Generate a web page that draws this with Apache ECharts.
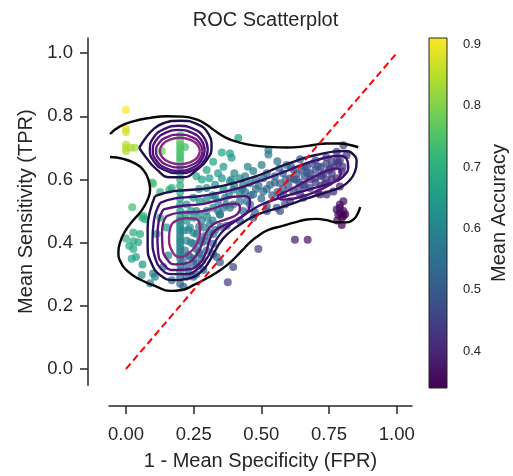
<!DOCTYPE html>
<html>
  <head>
    <meta charset="utf-8">
    <title>ROC Scatterplot</title>
    <script src="https://cdn.jsdelivr.net/npm/echarts@6/dist/echarts.min.js"></script>
  </head>
  <body style="margin:0;background:#fff;">
    <div id="main" style="width:513px;height:476px;"></div>
    <script type="text/javascript">

      // tick labels
      var xTicks = [0, 0.25, 0.5, 0.75, 1];
      var yTicks = [0, 0.2, 0.4, 0.6, 0.8, 1];
      var accTicks = [0.4, 0.5, 0.6, 0.7, 0.8, 0.9];
      var accRange = [0.34, 0.91];

      // chance line
      var diagonal = [[0, 0], [1, 1]];

      // [1 - specificity, sensitivity, accuracy]
      var leftPoints = [
        [0.0,0.82,0.91],[0.0,0.76,0.88],[0.0,0.75,0.87],[0.0,0.71,0.85],[0.0,0.70,0.85],[0.0,0.69,0.84],
        [0.017,0.70,0.84],[0.033,0.70,0.83],
        [0.097,0.59,0.75],[0.126,0.56,0.72],[0.16,0.567,0.70],[0.023,0.512,0.74],[0.06,0.479,0.71],
        [0.07,0.474,0.70],[0.0,0.413,0.71],[0.027,0.432,0.70],[0.027,0.404,0.69],[0.052,0.427,0.69],
        [0.012,0.39,0.69],[0.027,0.38,0.68],[0.037,0.354,0.66],[0.021,0.349,0.66],[0.061,0.331,0.64],
        [0.045,0.401,0.68],[0.10,0.302,0.60],[0.058,0.297,0.62],[0.089,0.271,0.59],[0.126,0.479,0.68],
        [0.15,0.448,0.65],[0.113,0.427,0.66],[0.156,0.359,0.60],[0.138,0.323,0.59],[0.107,0.292,0.59],
        [0.169,0.281,0.56],[0.064,0.484,0.71],[0.132,0.69,0.78],[0.218,0.703,0.74],[0.26,0.61,0.68],
        [0.169,0.573,0.70],[0.10,0.586,0.74]
      ];
      var columnPoints = [
        [0.2,0.27,0.535],[0.2,0.29,0.545],[0.2,0.31,0.555],[0.2,0.33,0.565],[0.2,0.35,0.575],
        [0.2,0.36,0.58],[0.2,0.37,0.585],[0.2,0.38,0.59],[0.2,0.39,0.595],[0.2,0.40,0.60],
        [0.2,0.41,0.605],[0.2,0.42,0.61],[0.2,0.43,0.615],[0.2,0.44,0.62],[0.2,0.45,0.625],
        [0.2,0.46,0.63],[0.2,0.47,0.635],[0.2,0.48,0.64],[0.2,0.50,0.65],[0.2,0.52,0.66],
        [0.2,0.54,0.67],[0.2,0.56,0.68],[0.2,0.58,0.69],[0.2,0.60,0.70],[0.2,0.62,0.71],
        [0.2,0.64,0.72],[0.2,0.66,0.73],[0.2,0.67,0.735],[0.2,0.68,0.74],[0.2,0.69,0.745],
        [0.2,0.70,0.75],[0.2,0.71,0.755],[0.2,0.72,0.76],[0.2,0.74,0.77]
      ];
      var clusterPoints = [
        [0.224,0.469,0.62],[0.249,0.479,0.62],[0.273,0.489,0.61],[0.298,0.50,0.60],[0.322,0.51,0.59],
        [0.347,0.489,0.57],[0.212,0.438,0.61],[0.236,0.448,0.61],[0.261,0.427,0.58],[0.286,0.448,0.58],
        [0.31,0.458,0.57],[0.224,0.406,0.59],[0.249,0.396,0.57],[0.273,0.406,0.57],[0.218,0.375,0.58],
        [0.236,0.354,0.56],[0.261,0.333,0.54],[0.224,0.323,0.55],[0.298,0.375,0.54],[0.322,0.396,0.54],
        [0.335,0.354,0.51],[0.286,0.313,0.51],[0.249,0.292,0.52],[0.212,0.26,0.52],[0.224,0.292,0.53],
        [0.249,0.542,0.65],[0.273,0.531,0.63],[0.298,0.536,0.62],[0.329,0.547,0.61],[0.224,0.521,0.65],
        [0.23,0.44,0.60],[0.25,0.43,0.59],[0.27,0.45,0.59],[0.24,0.40,0.58],[0.26,0.38,0.56],
        [0.28,0.40,0.56],[0.23,0.36,0.57],[0.25,0.35,0.55],[0.27,0.37,0.55],[0.29,0.42,0.57],
        [0.31,0.43,0.56],[0.33,0.44,0.56],[0.35,0.45,0.55],[0.30,0.48,0.59],[0.32,0.47,0.58],
        [0.34,0.50,0.58],[0.36,0.51,0.58],[0.26,0.50,0.62],[0.28,0.47,0.60],[0.22,0.49,0.63],
        [0.24,0.50,0.63],[0.21,0.34,0.57],[0.23,0.31,0.54],[0.26,0.30,0.52],[0.28,0.35,0.54]
      ];
      var bandPoints = [
        [0.415,0.731,0.66],[0.354,0.685,0.67],[0.384,0.682,0.65],[0.39,0.669,0.64],[0.36,0.64,0.64],
        [0.47,0.627,0.58],[0.501,0.646,0.57],[0.526,0.679,0.58],[0.526,0.693,0.58],[0.559,0.658,0.55],
        [0.566,0.635,0.53],[0.594,0.646,0.53],[0.643,0.664,0.51],[0.668,0.64,0.49],[0.778,0.688,0.46],
        [0.803,0.708,0.45],[0.815,0.677,0.43],[0.308,0.604,0.65],[0.354,0.604,0.63],[0.384,0.594,0.61],
        [0.419,0.604,0.59],[0.433,0.583,0.58],[0.458,0.588,0.57],[0.507,0.604,0.55],[0.532,0.583,0.53],
        [0.569,0.588,0.51],[0.606,0.604,0.50],[0.631,0.619,0.49],[0.655,0.583,0.46],[0.68,0.573,0.45],
        [0.698,0.604,0.45],[0.723,0.614,0.45],[0.735,0.588,0.43],[0.754,0.635,0.44],[0.76,0.656,0.45],
        [0.784,0.651,0.43],[0.797,0.625,0.41],[0.778,0.604,0.41],[0.79,0.578,0.39],[0.766,0.562,0.40],
        [0.741,0.552,0.41],[0.71,0.557,0.42],[0.618,0.562,0.47],[0.643,0.552,0.45],[0.581,0.552,0.49],
        [0.507,0.562,0.53],[0.47,0.552,0.54],[0.421,0.557,0.57],[0.396,0.567,0.59],[0.329,0.583,0.63],
        [0.298,0.573,0.64],[0.298,0.63,0.67],[0.322,0.656,0.67],[0.79,0.521,0.37],[0.803,0.50,0.35],
        [0.784,0.489,0.35],[0.797,0.479,0.34],[0.52,0.516,0.50],[0.557,0.51,0.48],[0.587,0.521,0.47],
        [0.458,0.521,0.53],[0.433,0.50,0.53],[0.477,0.495,0.51],[0.396,0.521,0.56],[0.366,0.542,0.59],
        [0.62,0.60,0.49],[0.64,0.59,0.47],[0.66,0.61,0.47],[0.68,0.62,0.47],[0.70,0.63,0.47],
        [0.72,0.64,0.46],[0.74,0.65,0.45],[0.76,0.62,0.43],[0.70,0.59,0.44],[0.72,0.58,0.43],
        [0.74,0.60,0.43],[0.68,0.60,0.46],[0.66,0.58,0.46],[0.64,0.57,0.47],[0.60,0.58,0.49],
        [0.58,0.57,0.50],[0.56,0.56,0.50],[0.54,0.55,0.51],[0.62,0.63,0.50],[0.66,0.64,0.49],
        [0.70,0.66,0.48],[0.74,0.67,0.47],[0.78,0.66,0.44],[0.80,0.64,0.42],[0.76,0.60,0.42],
        [0.72,0.61,0.45],[0.69,0.65,0.48],[0.55,0.59,0.52],[0.52,0.57,0.53],[0.50,0.54,0.52],
        [0.36,0.57,0.61],[0.38,0.55,0.59],[0.40,0.58,0.59],[0.42,0.53,0.56],[0.44,0.56,0.56],
        [0.46,0.55,0.55],[0.48,0.57,0.55],[0.34,0.53,0.60],[0.32,0.55,0.62],[0.37,0.52,0.58],
        [0.45,0.64,0.60],[0.40,0.62,0.61],[0.34,0.62,0.64],[0.28,0.60,0.66],[0.27,0.57,0.65],
        [0.44,0.61,0.59],[0.48,0.60,0.56],[0.52,0.62,0.55],[0.55,0.61,0.53],[0.58,0.62,0.52],
        [0.61,0.64,0.52],[0.63,0.60,0.49],[0.67,0.62,0.48],[0.71,0.64,0.47],[0.75,0.63,0.44],
        [0.77,0.64,0.44],[0.79,0.66,0.44],[0.73,0.62,0.45],[0.65,0.63,0.49],[0.59,0.60,0.51],
        [0.49,0.58,0.55],[0.43,0.57,0.57],[0.39,0.60,0.61]
      ];
      var lowerPoints = [
        [0.624,0.409,0.39],[0.671,0.409,0.37],[0.489,0.38,0.45],[0.396,0.323,0.46],[0.376,0.274,0.45],
        [0.803,0.531,0.36],[0.79,0.495,0.35],[0.803,0.484,0.34],[0.797,0.456,0.33],[0.778,0.505,0.36],
        [0.347,0.338,0.50],[0.569,0.50,0.47],[0.52,0.50,0.49],[0.47,0.479,0.50],[0.421,0.469,0.52],
        [0.372,0.453,0.54],[0.322,0.427,0.55],[0.298,0.406,0.55],[0.273,0.364,0.55],[0.322,0.364,0.52],
        [0.249,0.333,0.54],[0.384,0.51,0.56],[0.347,0.489,0.57],[0.446,0.531,0.54],[0.606,0.531,0.46],
        [0.655,0.542,0.44],[0.717,0.552,0.42],[0.79,0.51,0.36],[0.81,0.49,0.34],[0.78,0.47,0.35]
      ];

      // KDE contour lines, one list per level (outer -> inner)
      var level1Lines = [
        [[-0.059,0.744],[-0.022,0.768],[0.027,0.784],[0.089,0.795],[0.150,0.800],[0.212,0.799],[0.261,0.790],
         [0.298,0.773],[0.335,0.750],[0.372,0.731],[0.415,0.718],[0.470,0.708],[0.532,0.703],[0.594,0.701],
         [0.643,0.703],[0.692,0.709],[0.741,0.714],[0.791,0.714],[0.828,0.709],[0.858,0.702]],
        [[0.865,0.513],[0.855,0.490],[0.840,0.473],[0.815,0.464],[0.778,0.464],[0.741,0.471],[0.704,0.475],
         [0.667,0.473],[0.624,0.464],[0.575,0.452],[0.526,0.440],[0.489,0.422],[0.458,0.401],[0.431,0.377],
         [0.403,0.352],[0.372,0.328],[0.335,0.305],[0.292,0.284],[0.249,0.265],[0.206,0.250],[0.163,0.247],
         [0.107,0.263],[0.052,0.283],[0.009,0.307],[-0.020,0.339],[-0.028,0.370],[-0.022,0.401],[-0.004,0.435],
         [0.025,0.469],[0.058,0.502],[0.080,0.536],[0.089,0.568],[0.083,0.599],[0.064,0.630],[0.033,0.651],
         [-0.010,0.665],[-0.059,0.671]]
      ];
      var level2Lines = [
        [[0.049,0.700],[0.070,0.728],[0.100,0.758],[0.138,0.778],[0.200,0.786],[0.261,0.776],[0.304,0.745],
         [0.316,0.703],[0.298,0.661],[0.261,0.630],[0.212,0.607],[0.163,0.607],[0.113,0.632],[0.072,0.672],
         [0.049,0.700]],
        [[0.107,0.547],[0.156,0.560],[0.218,0.566],[0.273,0.569],[0.323,0.575],[0.372,0.583],[0.421,0.594],
         [0.470,0.607],[0.520,0.623],[0.569,0.641],[0.618,0.656],[0.667,0.670],[0.717,0.680],[0.766,0.688],
         [0.809,0.690],[0.840,0.679],[0.852,0.656],[0.846,0.625],[0.825,0.596],[0.793,0.575],[0.754,0.563],
         [0.704,0.550],[0.655,0.536],[0.606,0.521],[0.544,0.505],[0.483,0.488],[0.433,0.464],[0.390,0.438],
         [0.357,0.411],[0.333,0.380],[0.310,0.344],[0.280,0.310],[0.230,0.286],[0.175,0.281],[0.126,0.297],
         [0.095,0.333],[0.080,0.385],[0.080,0.448],[0.089,0.500],[0.107,0.547]]
      ];
      var level3Lines = [
        [[0.302,0.695],[0.288,0.733],[0.249,0.760],[0.195,0.770],[0.142,0.760],[0.102,0.733],[0.088,0.695],
         [0.102,0.658],[0.142,0.630],[0.195,0.620],[0.249,0.630],[0.288,0.658],[0.302,0.695]],
        [[0.126,0.526],[0.181,0.540],[0.249,0.545],[0.310,0.552],[0.372,0.563],[0.427,0.575],[0.483,0.592],
         [0.538,0.609],[0.594,0.627],[0.649,0.646],[0.704,0.661],[0.754,0.672],[0.791,0.675],[0.815,0.665],
         [0.821,0.641],[0.809,0.615],[0.778,0.596],[0.729,0.581],[0.674,0.568],[0.618,0.554],[0.563,0.540],
         [0.507,0.523],[0.458,0.500],[0.415,0.474],[0.372,0.448],[0.341,0.419],[0.320,0.385],[0.298,0.349],
         [0.267,0.318],[0.218,0.300],[0.169,0.300],[0.128,0.318],[0.107,0.354],[0.098,0.406],[0.103,0.469],
         [0.126,0.526]]
      ];
      var level4Lines = [
        [[0.291,0.692],[0.278,0.725],[0.243,0.748],[0.195,0.757],[0.147,0.748],[0.112,0.725],[0.099,0.692],
         [0.112,0.660],[0.147,0.636],[0.195,0.627],[0.243,0.636],[0.278,0.660],[0.291,0.692]],
        [[0.138,0.505],[0.200,0.516],[0.273,0.521],[0.335,0.533],[0.397,0.545],[0.440,0.547],[0.458,0.531],
         [0.452,0.502],[0.421,0.479],[0.372,0.458],[0.329,0.438],[0.308,0.406],[0.296,0.370],[0.273,0.335],
         [0.230,0.315],[0.177,0.313],[0.138,0.331],[0.119,0.367],[0.116,0.417],[0.121,0.469],[0.138,0.505]],
        [[0.557,0.547],[0.618,0.573],[0.680,0.602],[0.741,0.627],[0.781,0.635],[0.793,0.620],[0.772,0.594],
         [0.711,0.565],[0.643,0.544],[0.581,0.536],[0.557,0.547]]
      ];
      var level5Lines = [
        [[0.283,0.690],[0.271,0.716],[0.240,0.735],[0.197,0.742],[0.154,0.735],[0.123,0.716],[0.111,0.690],
         [0.123,0.664],[0.154,0.645],[0.197,0.638],[0.240,0.645],[0.271,0.664],[0.283,0.690]],
        [[0.150,0.484],[0.200,0.495],[0.261,0.497],[0.310,0.505],[0.360,0.519],[0.403,0.523],[0.421,0.510],
         [0.411,0.490],[0.372,0.474],[0.323,0.458],[0.296,0.432],[0.281,0.396],[0.259,0.359],[0.224,0.335],
         [0.181,0.331],[0.150,0.349],[0.135,0.385],[0.133,0.432],[0.138,0.464],[0.150,0.484]]
      ];
      var level6Lines = [
        [[0.273,0.690],[0.263,0.711],[0.236,0.726],[0.199,0.732],[0.162,0.726],[0.135,0.711],[0.125,0.690],
         [0.135,0.669],[0.162,0.654],[0.199,0.648],[0.236,0.654],[0.263,0.669],[0.273,0.690]],
        [[0.175,0.464],[0.224,0.477],[0.261,0.474],[0.273,0.438],[0.261,0.396],[0.230,0.365],[0.200,0.354],
         [0.169,0.375],[0.159,0.417],[0.165,0.450],[0.175,0.464]]
      ];

      var contourLevels = [level1Lines, level2Lines, level3Lines, level4Lines, level5Lines, level6Lines];
      var levelColors = ['#050505', '#1d1147', '#3b0f70', '#51127c', '#6a1c81', '#8c2981'];
      var viridis = ['#440154', '#482878', '#3e4989', '#31688e', '#26828e',
                     '#1f9e89', '#35b779', '#6ece58', '#b5de2b', '#fde725'];
      var ink = '#262626';
      var font = 'Liberation Sans, Arial, Helvetica, sans-serif';

      var points = leftPoints.concat(columnPoints, clusterPoints, bandPoints, lowerPoints);

      var myChart = echarts.init(document.getElementById('main'));

      var series = [{
        type: 'scatter',
        data: points,
        symbolSize: 8,
        itemStyle: { opacity: 0.72 },
        silent: true,
        z: 2
      }];

      contourLevels.forEach(function (lines, i) {
        lines.forEach(function (line) {
          series.push({
            type: 'line',
            data: line,
            smooth: 0.5,
            symbol: 'none',
            silent: true,
            lineStyle: { color: levelColors[i], width: 2.4 },
            z: 3
          });
        });
      });

      series.push({
        type: 'line',
        data: diagonal,
        symbol: 'none',
        silent: true,
        lineStyle: { color: '#ff0000', width: 2, type: [7, 4] },
        z: 4
      });

      // colorbar
      var gradStops = viridis.map(function (c, i) {
        return { offset: i / (viridis.length - 1), color: c };
      });
      series.push({
        type: 'custom',
        xAxisIndex: 1,
        yAxisIndex: 1,
        silent: true,
        data: [[0, accRange[0], 1, accRange[1]]],
        renderItem: function (params, api) {
          var p0 = api.coord([api.value(0), api.value(1)]);
          var p1 = api.coord([api.value(2), api.value(3)]);
          return {
            type: 'rect',
            shape: { x: p0[0], y: p1[1], width: p1[0] - p0[0], height: p0[1] - p1[1] },
            style: {
              fill: new echarts.graphic.LinearGradient(0, 1, 0, 0, gradStops),
              stroke: ink,
              lineWidth: 1
            }
          };
        }
      });

      myChart.setOption({
        animation: false,
        backgroundColor: '#fff',
        textStyle: { fontFamily: font },
        title: {
          text: 'ROC Scatterplot',
          left: 260.5,
          top: 5,
          textAlign: 'center',
          textStyle: { fontSize: 20, fontWeight: 'normal', color: ink, fontFamily: font }
        },
        grid: [
          { left: 109, top: 38, width: 303, height: 352 },
          { left: 429, top: 38, width: 18, height: 350 }
        ],
        visualMap: {
          show: false,
          type: 'continuous',
          seriesIndex: 0,
          dimension: 2,
          min: accRange[0],
          max: accRange[1],
          inRange: { color: viridis }
        },
        xAxis: [{
          type: 'value',
          min: -0.0628,
          max: 1.0565,
          offset: 20.7,
          splitLine: { show: false },
          axisLine: { onZero: false, lineStyle: { color: ink, width: 1.5 } },
          axisTick: { show: true, customValues: xTicks, length: 8, lineStyle: { color: ink, width: 1.5 } },
          axisLabel: {
            customValues: xTicks, fontSize: 18.5, color: ink, margin: 19,
            formatter: function (v) { return v.toFixed(2); }
          },
          name: '1 - Mean Specificity (FPR)',
          nameLocation: 'middle',
          nameGap: 45,
          nameTextStyle: { fontSize: 20, color: ink }
        }, {
          gridIndex: 1, type: 'value', min: 0, max: 1, show: false
        }],
        yAxis: [{
          type: 'value',
          min: -0.052,
          max: 1.048,
          offset: 21,
          splitLine: { show: false },
          axisLine: { show: true, onZero: false, lineStyle: { color: ink, width: 1.5 } },
          axisTick: { show: true, customValues: yTicks, length: 8, lineStyle: { color: ink, width: 1.5 } },
          axisLabel: {
            customValues: yTicks, fontSize: 18.5, color: ink, margin: 15,
            formatter: function (v) { return v.toFixed(1); }
          },
          name: 'Mean Sensitivity (TPR)',
          nameLocation: 'middle',
          nameGap: 51,
          nameRotate: 90,
          nameTextStyle: { fontSize: 20, color: ink }
        }, {
          gridIndex: 1,
          type: 'value',
          position: 'right',
          min: accRange[0],
          max: accRange[1],
          splitLine: { show: false },
          axisLine: { show: false },
          axisTick: { show: true, customValues: accTicks, length: 8, lineStyle: { color: ink, width: 1.3 } },
          axisLabel: {
            customValues: accTicks, fontSize: 13, color: ink, margin: 16,
            formatter: function (v) { return v.toFixed(1); }
          },
          name: 'Mean Accuracy',
          nameLocation: 'middle',
          nameGap: 42,
          nameRotate: 90,
          nameTextStyle: { fontSize: 20, color: ink }
        }],
        series: series
      });
    </script>
  </body>
</html>
